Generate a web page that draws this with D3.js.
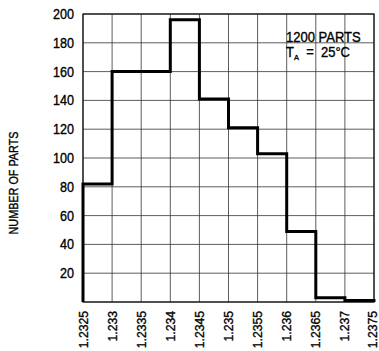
<!DOCTYPE html>
<html><head><meta charset="utf-8">
<script src="https://cdn.jsdelivr.net/npm/d3@7"></script>
<style>body{margin:0;background:#fff}</style>
</head><body>
<svg id="c" width="379" height="351"></svg>
<script>
const binEdges = [1.2325,1.233,1.2335,1.234,1.2345,1.235,1.2355,1.236,1.2365,1.237,1.2375];
const counts = [82,160,160,196,141,121,103,49,3,1];
const xTickLabels = ["1.2325","1.233","1.2335","1.234","1.2345","1.235","1.2355","1.236","1.2365","1.237","1.2375"];
const yTicks = [20,40,60,80,100,120,140,160,180,200];

const svg = d3.select("#c");
const font = "'Liberation Sans Narrow','Arial Narrow','Liberation Sans',sans-serif";
const L=83,R=374,T=14,B=302;
const x = d3.scaleLinear().domain([1.2325,1.2375]).range([L,R]);
const y = d3.scaleLinear().domain([0,200]).range([B,T]);

// grid
svg.append("g").selectAll("line.v").data(binEdges).join("line")
 .attr("x1",d=>x(d)).attr("x2",d=>x(d)).attr("y1",T).attr("y2",B)
 .attr("stroke","#333").attr("stroke-width",0.8);
svg.append("g").selectAll("line.h").data([0].concat(yTicks)).join("line")
 .attr("x1",L).attr("x2",R).attr("y1",d=>y(d)).attr("y2",d=>y(d))
 .attr("stroke","#333").attr("stroke-width",0.8);
svg.append("rect").attr("x",L).attr("y",T).attr("width",R-L).attr("height",B-T)
 .attr("fill","none").attr("stroke","#111").attr("stroke-width",1.2);

// histogram step
const pts=[[binEdges[0],0]];
counts.forEach((c,i)=>{pts.push([binEdges[i],c]);pts.push([binEdges[i+1],c]);});
pts.push([binEdges[binEdges.length-1],0]);
svg.append("path").datum(pts)
 .attr("d",d3.line().x(d=>x(d[0])).y(d=>y(d[1])))
 .attr("fill","none").attr("stroke","#000").attr("stroke-width",3).attr("stroke-linejoin","miter");

function txt(sel){return sel.attr("font-family",font).attr("fill","#000").attr("stroke","#000").attr("stroke-width",0.35);}
// y axis labels
txt(svg.append("g").selectAll("text").data(yTicks).join("text")
 .attr("transform",d=>`translate(74,${y(d)+5}) scale(0.9,1)`).attr("text-anchor","end")
 .attr("font-size",14).text(d=>d));
// x axis labels
txt(svg.append("g").selectAll("text").data(binEdges).join("text")
 .attr("transform",(d,i)=>`translate(${Math.min(x(d)+4.5,377)},${B+9}) rotate(-90) scale(0.9,1)`)
 .attr("text-anchor","end").attr("font-size",13.5)
 .text((d,i)=>xTickLabels[i]));
// y title
txt(svg.append("text").attr("transform","translate(18,183) rotate(-90)")
 .attr("text-anchor","middle").attr("font-size",12.5)
 .attr("textLength",103).attr("lengthAdjust","spacingAndGlyphs")
 .text("NUMBER OF PARTS"));
// annotation
txt(svg.append("text").attr("transform","translate(286,42) scale(0.93,1)").attr("font-size",14).text("1200 PARTS"));
const t=txt(svg.append("text").attr("transform","translate(286,57) scale(0.93,1)").attr("font-size",14).style("white-space","pre"));
t.append("tspan").text("T");
t.append("tspan").attr("font-size",8).attr("dy",3).text("A");
t.append("tspan").attr("dy",-3).text("  =  25°C");
</script>
</body></html>
